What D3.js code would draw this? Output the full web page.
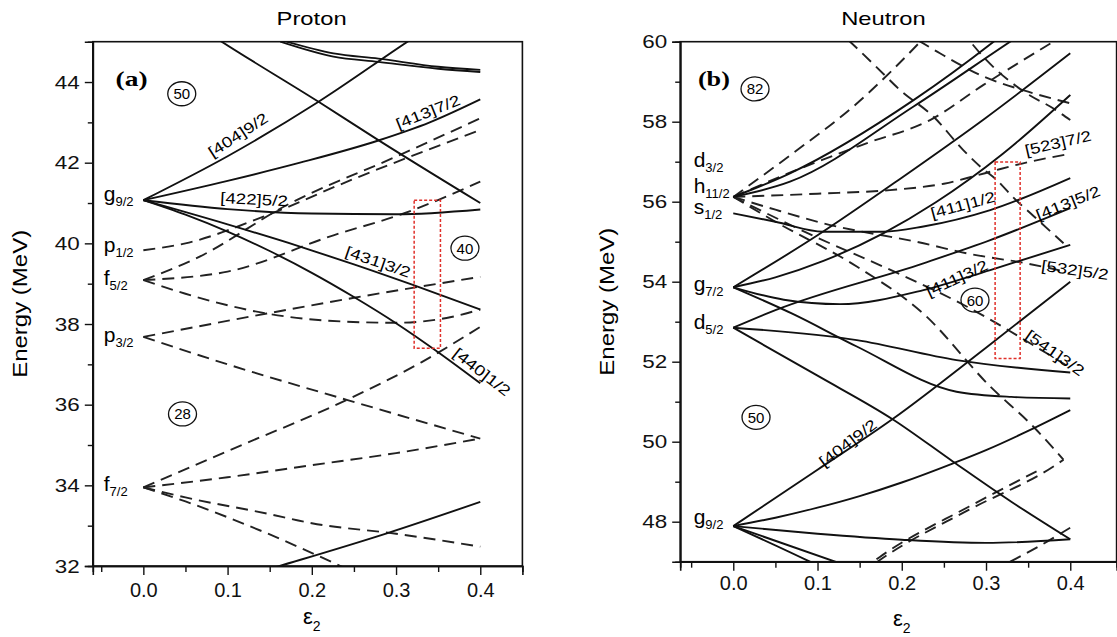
<!DOCTYPE html>
<html>
<head>
<meta charset="utf-8">
<script src="https://cdn.jsdelivr.net/npm/d3@7"></script>
<style>
  body { margin: 0; background: #fff; }
  svg { display: block; font-family: Arial, "Liberation Sans", sans-serif; }
</style>
</head>
<body>
<svg id="chart" width="1117" height="637"></svg>
<script>
'use strict';

// ---------- data (deformation eps2, energy in MeV) ----------
var xMajor = [0.0, 0.1, 0.2, 0.3, 0.4];
var xMinor = [-0.05, 0.05, 0.15, 0.25, 0.35];
var protonYMajor = [32, 34, 36, 38, 40, 42, 44];
var protonYMinor = [33, 35, 37, 39, 41, 43];
var neutronYMajor = [48, 50, 52, 54, 56, 58, 60];
var neutronYMinor = [49, 51, 53, 55, 57, 59];

// proton, positive parity (solid)
var protonSolid = [
  [[0, 41.07], [0.1, 42.16], [0.208, 43.51], [0.3136, 45.0], [0.35, 45.5]],          // [404]9/2
  [[0.06, 45.45], [0.093, 45.0], [0.208, 43.51], [0.279, 42.56], [0.4, 41.0]],         // from above
  [[0.1626, 45.0], [0.2257, 44.63], [0.279, 44.5], [0.35, 44.33], [0.4, 44.25]],
  [[0.170, 45.0], [0.2257, 44.71], [0.279, 44.58], [0.35, 44.38], [0.4, 44.3]],
  [[0, 41.07], [0.1, 41.55], [0.186, 42.0], [0.279, 42.55], [0.34, 43.0], [0.4, 43.57]], // [413]7/2
  [[0, 41.07], [0.1, 40.85], [0.2, 40.74], [0.3, 40.72], [0.4, 40.84]],               // [422]5/2
  [[0, 41.07], [0.1, 40.47], [0.186, 39.92], [0.25, 39.48], [0.32, 38.97], [0.4, 38.36]], // [431]3/2
  [[0, 41.07], [0.05, 40.71], [0.1, 40.29], [0.15, 39.81], [0.2, 39.27], [0.25, 38.67], [0.3, 38.02], [0.35, 37.30], [0.4, 36.53]], // [440]1/2
  [[0.13, 31.8], [0.162, 32.0], [0.289, 32.81], [0.4, 33.59]]
];

// proton, negative parity (dashed)
var protonDashed = [
  [[0, 39.83], [0.05, 40.0], [0.1425, 40.66], [0.25, 41.6], [0.4, 42.81]],            // p1/2
  [[0, 39.09], [0.06, 39.6], [0.174, 40.99], [0.3, 42.15], [0.4, 43.1]],              // f5/2
  [[0, 39.09], [0.1, 39.3], [0.2257, 40.2], [0.309, 40.74], [0.4, 41.53]],
  [[0, 39.09], [0.05, 38.75], [0.1466, 38.26], [0.22, 38.08], [0.3, 38.03], [0.36, 38.15], [0.4, 38.36]],
  [[0, 37.68], [0.1466, 38.26], [0.25, 38.65], [0.4, 39.17]],                         // p3/2
  [[0, 37.68], [0.1, 37.0], [0.2415, 36.12], [0.4, 35.16]],
  [[0, 33.95], [0.1, 34.85], [0.2415, 36.12], [0.33, 37.05], [0.4, 37.93]],           // f7/2
  [[0, 33.95], [0.1, 34.2], [0.2, 34.5], [0.3, 34.8], [0.4, 35.16]],
  [[0, 33.95], [0.05, 33.7], [0.1466, 33.3], [0.2, 33.06], [0.3, 32.8], [0.4, 32.48]],
  [[0, 33.95], [0.05, 33.6], [0.148, 32.8], [0.234, 32.0], [0.26, 31.75]]
];

// neutron, positive parity (solid)
var neutronSolid = [
  [[0, 56.12], [0.0673, 56.71], [0.214, 58.54], [0.309, 60.0], [0.33, 60.35]],        // d3/2
  [[0, 56.12], [0.0673, 56.5], [0.214, 58.38], [0.3286, 60.0], [0.35, 60.3]],
  [[0, 55.71], [0.05, 55.5], [0.107, 55.25], [0.178, 55.25], [0.2257, 55.38], [0.305, 55.79], [0.4, 56.59]], // s1/2 [411]1/2
  [[0, 53.86], [0.1, 55.16], [0.2, 56.6], [0.3, 58.1], [0.4, 59.71]],                  // g7/2
  [[0, 53.86], [0.05, 54.11], [0.107, 54.52], [0.178, 55.21], [0.24, 55.98], [0.32, 57.2], [0.4, 58.67]],
  [[0, 53.86], [0.06, 53.55], [0.1266, 53.44], [0.2257, 53.79], [0.305, 54.29], [0.4, 54.92]], // [411]3/2
  [[0, 53.86], [0.07, 53.2], [0.1466, 52.38], [0.265, 51.25], [0.33, 51.12], [0.4, 51.08]],
  [[0, 52.85], [0.05, 53.29], [0.2257, 54.46], [0.305, 55.04], [0.4, 55.84]],          // d5/2 [413]5/2
  [[0, 52.85], [0.1466, 52.54], [0.265, 52.04], [0.4, 51.73]],
  [[0, 52.85], [0.1, 51.65], [0.19, 50.55], [0.261, 49.5], [0.33, 48.5], [0.4, 47.56]],
  [[0, 47.89], [0.1, 49.3], [0.19, 50.58], [0.3, 52.35], [0.4, 54.0]],                // g9/2 [404]9/2
  [[0, 47.89], [0.05, 48.1], [0.1, 48.35], [0.15, 48.64], [0.2, 48.98], [0.261, 49.46], [0.3, 49.79], [0.35, 50.27], [0.4, 50.79]],
  [[0, 47.89], [0.1, 47.7], [0.2, 47.55], [0.3, 47.47], [0.4, 47.56]],
  [[0, 47.89], [0.091, 47.0], [0.12, 46.7]],
  [[0, 47.89], [0.121, 47.0], [0.15, 46.78]]
];

// neutron, negative parity (dashed)
var neutronDashed = [
  [[0, 56.12], [0.07, 57.2], [0.1425, 58.38], [0.222, 60.0], [0.24, 60.4]],           // h11/2
  [[0, 56.12], [0.07, 56.75], [0.158, 57.46], [0.2336, 58.04], [0.297, 58.92], [0.38, 60.0]],
  [[0, 56.12], [0.1, 56.2], [0.186, 56.29], [0.25, 56.45], [0.305, 56.75], [0.344, 56.96], [0.4, 57.2]], // [523]7/2
  [[0, 56.12], [0.05, 55.8], [0.107, 55.46], [0.2257, 54.96], [0.277, 54.71], [0.35, 54.45], [0.395, 54.25]], // [532]5/2
  [[0, 56.12], [0.1, 55.1], [0.186, 54.3], [0.277, 53.38], [0.372, 52.21], [0.4, 51.85]], // [541]3/2
  [[0, 56.12], [0.05, 55.5], [0.1466, 54.38], [0.2257, 53.2], [0.305, 51.38], [0.356, 50.38], [0.392, 49.55]],
  [[0.12, 60.35], [0.1386, 60.0], [0.178, 59.2], [0.198, 58.79], [0.2375, 58.13], [0.273, 57.29], [0.293, 56.88], [0.3128, 56.54], [0.3326, 56.1], [0.356, 55.65], [0.392, 54.96]],
  [[0.2, 60.25], [0.222, 60.0], [0.2453, 59.71], [0.297, 59.13], [0.35, 58.75], [0.4, 58.46]],
  [[0.27, 60.3], [0.3, 59.55], [0.348, 58.71], [0.38, 58.33], [0.4, 58.04]],
  [[0.17, 46.98], [0.174, 47.04], [0.28, 48.3], [0.38, 49.38], [0.392, 49.55]],
  [[0.17, 47.06], [0.174, 47.12], [0.28, 48.38], [0.36, 49.26]],
  [[0.3286, 47.0], [0.36, 47.35], [0.4, 47.85]]
];

// ---------- drawing ----------
var svg = d3.select('#chart');

function stretchText(sel, k) {
  sel.each(function() {
    var w = this.getComputedTextLength();
    d3.select(this).attr('textLength', w * k).attr('lengthAdjust', 'spacingAndGlyphs');
  });
}

function levelLabel(g, x, y, main, sub) {
  var t = g.append('text').attr('x', x).attr('y', y).attr('font-size', 21);
  t.append('tspan').text(main);
  t.append('tspan').attr('font-size', 13).attr('dy', 5).text(sub);
}

function drawPanel(cfg) {
  var x = d3.scaleLinear().domain(cfg.xDomain).range(cfg.xRange);
  var y = d3.scaleLinear().domain(cfg.yDomain).range(cfg.yRange);
  var g = svg.append('g');

  g.append('clipPath').attr('id', cfg.id + '-clip')
    .append('rect')
    .attr('x', cfg.xRange[0]).attr('y', cfg.yRange[1])
    .attr('width', cfg.xRange[1] - cfg.xRange[0])
    .attr('height', cfg.yRange[0] - cfg.yRange[1]);

  var line = d3.line()
    .x(function(d) { return x(d[0]); })
    .y(function(d) { return y(d[1]); })
    .curve(d3.curveMonotoneX);

  var plot = g.append('g').attr('clip-path', 'url(#' + cfg.id + '-clip)');

  plot.selectAll('path.dashed').data(cfg.dashed).enter()
    .append('path').attr('class', 'dashed')
    .attr('d', line)
    .attr('fill', 'none').attr('stroke', '#222')
    .attr('stroke-width', 1.9).attr('stroke-dasharray', '12,7');

  plot.selectAll('path.solid').data(cfg.solid).enter()
    .append('path').attr('class', 'solid')
    .attr('d', line)
    .attr('fill', 'none').attr('stroke', '#111')
    .attr('stroke-width', 1.9);

  // red marker box
  var b = cfg.box;
  g.append('rect')
    .attr('x', x(b[0])).attr('y', y(b[3]))
    .attr('width', x(b[1]) - x(b[0])).attr('height', y(b[2]) - y(b[3]))
    .attr('fill', 'none').attr('stroke', '#e0302a')
    .attr('stroke-width', 1.5).attr('stroke-dasharray', '3,2');

  // frame
  g.append('rect')
    .attr('x', cfg.xRange[0]).attr('y', cfg.yRange[1])
    .attr('width', cfg.xRange[1] - cfg.xRange[0])
    .attr('height', cfg.yRange[0] - cfg.yRange[1])
    .attr('fill', 'none').attr('stroke', '#111').attr('stroke-width', 1.6);

  // axes
  var ya = g.append('g').attr('transform', 'translate(' + cfg.xRange[0] + ',0)')
    .call(d3.axisLeft(y).tickValues(cfg.yMajor).tickSize(8).tickPadding(5).tickFormat(d3.format('d')));
  g.append('g').attr('transform', 'translate(' + cfg.xRange[0] + ',0)')
    .call(d3.axisLeft(y).tickValues(cfg.yMinor).tickSize(5).tickFormat(''));
  var xa = g.append('g').attr('transform', 'translate(0,' + cfg.yRange[0] + ')')
    .call(d3.axisBottom(x).tickValues(xMajor).tickSize(9).tickPadding(cfg.xPad).tickFormat(d3.format('.1f')));
  g.append('g').attr('transform', 'translate(0,' + cfg.yRange[0] + ')')
    .call(d3.axisBottom(x).tickValues(xMinor).tickSize(6).tickFormat(''));

  g.selectAll('.domain').attr('stroke', '#111').attr('stroke-width', 1.6);
  g.selectAll('.tick line').attr('stroke', '#111').attr('stroke-width', 1.4);
  ya.selectAll('text').attr('font-size', 19).attr('font-family', 'Arial, "Liberation Sans", sans-serif').attr('fill', '#111');
  xa.selectAll('text').attr('font-size', 20).attr('font-family', 'Arial, "Liberation Sans", sans-serif').attr('fill', '#111');
  stretchText(ya.selectAll('text'), 1.18);

  // titles
  var title = g.append('text')
    .attr('x', (cfg.xRange[0] + cfg.xRange[1]) / 2 + cfg.titleDx).attr('y', 25)
    .attr('text-anchor', 'middle').attr('font-size', 19).text(cfg.title);
  stretchText(title, 1.25);

  var xl = g.append('text')
    .attr('x', x(0.2)).attr('y', cfg.yRange[0] + cfg.xLabelDy)
    .attr('text-anchor', 'middle').attr('font-size', 22);
  xl.append('tspan').text('\u03b5');
  xl.append('tspan').attr('font-size', 14).attr('dy', 7).text('2');

  g.append('text')
    .attr('transform', 'translate(' + (cfg.xRange[0] - 66) + ',' + ((cfg.yRange[0] + cfg.yRange[1]) / 2) + ') rotate(-90)')
    .attr('text-anchor', 'middle').attr('font-size', 21)
    .attr('textLength', 148).attr('lengthAdjust', 'spacingAndGlyphs')
    .text('Energy (MeV)');

  // panel tag
  g.append('text')
    .attr('x', x(cfg.tag[1])).attr('y', y(cfg.tag[2]))
    .attr('font-family', '"Liberation Serif", "Times New Roman", serif')
    .attr('font-weight', 'bold').attr('font-size', 22)
    .attr('textLength', 32).attr('lengthAdjust', 'spacingAndGlyphs')
    .text(cfg.tag[0]);

  // spherical level labels
  cfg.levels.forEach(function(l) {
    levelLabel(g, x(-0.047), y(l[2]) + l[3], l[0], l[1]);
  });

  // magic numbers in circles
  cfg.magic.forEach(function(m) {
    var cx = x(m[1]), cy = y(m[2]);
    g.append('ellipse').attr('cx', cx).attr('cy', cy).attr('rx', 14).attr('ry', 12)
      .attr('fill', 'none').attr('stroke', '#111').attr('stroke-width', 1.3);
    g.append('text').attr('x', cx).attr('y', cy + 5.5).attr('text-anchor', 'middle')
      .attr('font-size', 15).text(m[0]);
  });

  // Nilsson labels
  cfg.notes.forEach(function(n) {
    var t = g.append('text')
      .attr('transform', 'translate(' + x(n[1]) + ',' + y(n[2]) + ') rotate(' + n[3] + ')')
      .attr('text-anchor', 'middle').attr('dy', '0.35em')
      .attr('font-size', 15).text(n[0]);
    stretchText(t, 1.25);
  });
}

drawPanel({
  id: 'proton', title: 'Proton', titleDx: 4, xPad: 8, xLabelDy: 58,
  xDomain: [-0.06, 0.45], xRange: [92.8, 522.4],
  yDomain: [32, 45], yRange: [566, 41.7],
  yMajor: protonYMajor, yMinor: protonYMinor,
  solid: protonSolid, dashed: protonDashed,
  box: [0.3215, 0.3527, 37.4, 41.07],
  tag: ['(a)', -0.033, 43.9],
  levels: [['g', '9/2', 41.07, 1], ['p', '1/2', 39.83, 2], ['f', '5/2', 39.09, 5],
           ['p', '3/2', 37.68, 5], ['f', '7/2', 33.95, 4]],
  magic: [['50', 0.0456, 43.71], ['40', 0.3818, 39.88], ['28', 0.0465, 35.77]],
  notes: [['[404]9/2', 0.1124, 42.69, -33], ['[413]7/2', 0.3379, 43.26, -22],
          ['[422]5/2', 0.1314, 41.09, 3], ['[431]3/2', 0.2786, 39.54, 19],
          ['[440]1/2', 0.4020, 36.81, 38]]
});

drawPanel({
  id: 'neutron', title: 'Neutron', titleDx: -15, xPad: 5, xLabelDy: 64,
  xDomain: [-0.063, 0.455], xRange: [680.2, 1116.6],
  yDomain: [47, 60], yRange: [561.7, 41.7],
  yMajor: neutronYMajor, yMinor: neutronYMinor,
  solid: neutronSolid, dashed: neutronDashed,
  box: [0.3108, 0.3405, 52.08, 56.99],
  tag: ['(b)', -0.042, 58.9],
  levels: [['d', '3/2', 56.88, 0], ['h', '11/2', 56.17, -2], ['s', '1/2', 55.79, 4],
           ['g', '7/2', 53.86, 4], ['d', '5/2', 52.85, 1], ['g', '9/2', 47.89, -2]],
  magic: [['82', 0.0258, 58.82], ['60', 0.2869, 53.54], ['50', 0.027, 50.61]],
  notes: [['[523]7/2', 0.3854, 57.47, -13], ['[413]5/2', 0.3973, 55.97, -22],
          ['[411]1/2', 0.2726, 55.92, -15], ['[411]3/2', 0.2655, 54.09, -25],
          ['[532]5/2', 0.4056, 54.29, 8], ['[541]3/2', 0.3818, 52.22, 35],
          ['[404]9/2', 0.1361, 49.97, -37]]
});
</script>
</body>
</html>
